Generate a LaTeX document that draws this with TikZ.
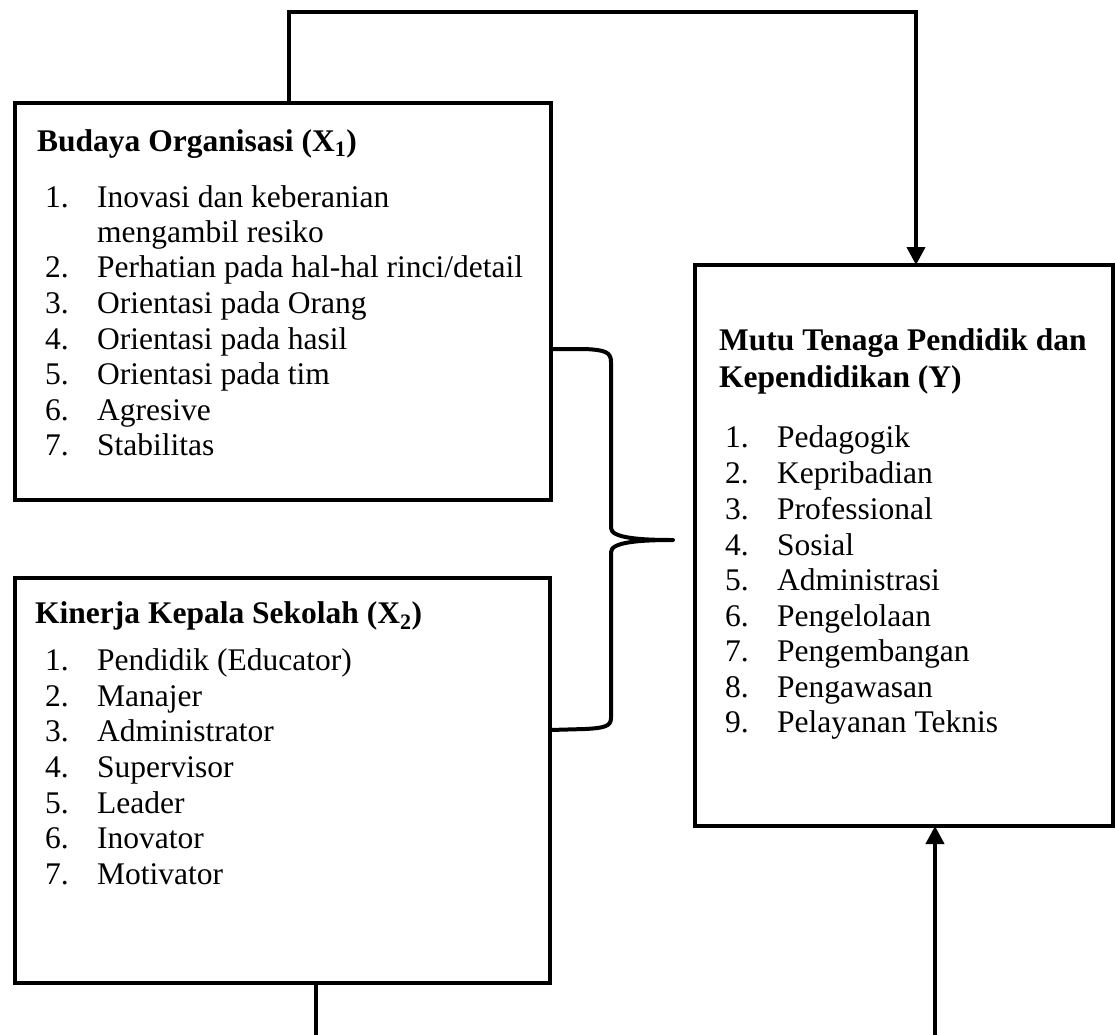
\documentclass[tikz,border=0pt]{standalone}
\usepackage{fontspec}
\setmainfont{Liberation Serif}
\usetikzlibrary{arrows.meta}
\tikzset{
  box/.style={draw, line width=4pt, inner sep=0pt, outer sep=0pt, anchor=north west},
  conn/.style={line width=4pt},
  arr/.style={line width=4pt, -{Triangle[length=18pt,width=18pt]}},
  txt/.style={anchor=base west, inner sep=0pt, font=\fontsize{31.5}{36}\selectfont},
  ttl/.style={txt, font=\fontsize{31.5}{36}\selectfont\bfseries}
}
\begin{document}
\begin{tikzpicture}[x=1pt,y=-1pt]
\useasboundingbox (0,0) rectangle (1116,1034);
% boxes
\node[box, minimum width=536pt, minimum height=397pt] (b1) at (15,103) {};
\node[box, minimum width=535pt, minimum height=405pt] (b2) at (15,578) {};
\node[box, minimum width=418pt, minimum height=561pt] (y) at (695,265) {};
% box 1 text
\node[ttl] (t1) at (37,151) {Budaya Organisasi (X\textsubscript{1})};
\foreach \n/\t/\yy [count=\i] in {1./Inovasi dan keberanian/207, {}/mengambil resiko/242, 2./{Perhatian pada hal-hal rinci/detail}/277, 3./Orientasi pada Orang/313, 4./Orientasi pada hasil/349, 5./Orientasi pada tim/384, 6./Agresive/420, 7./Stabilitas/455}{
  \node[txt] (a\i n) at (45,\yy) {\n};
  \node[txt] (a\i) at (97,\yy) {\t};
}
% box 2 text
\node[ttl] (t2) at (35,623) {Kinerja Kepala Sekolah (X\textsubscript{2})};
\foreach \n/\t/\yy [count=\i] in {1./Pendidik (Educator)/670, 2./Manajer/706, 3./Administrator/741, 4./Supervisor/777, 5./Leader/813, 6./Inovator/848, 7./Motivator/884}{
  \node[txt] (c\i n) at (45,\yy) {\n};
  \node[txt] (c\i) at (97,\yy) {\t};
}
% box Y text
\node[ttl] (t3) at (719,350) {Mutu Tenaga Pendidik dan};
\node[ttl] (t4) at (719,387) {Kependidikan (Y)};
\foreach \n/\t/\yy [count=\i] in {1./Pedagogik/447, 2./Kepribadian/483, 3./Professional/519, 4./Sosial/555, 5./Administrasi/590, 6./Pengelolaan/626, 7./Pengembangan/661, 8./Pengawasan/697, 9./Pelayanan Teknis/732}{
  \node[txt] (d\i n) at (725,\yy) {\n};
  \node[txt] (d\i) at (777,\yy) {\t};
}
% connectors
\coordinate (p1) at (289,12);
\coordinate (p2) at (916,12);
\draw[arr] (b1.north -| p1) -- (p1) -- (p2) -- (y.north -| p2);
\coordinate (q1) at (316,1036);
\draw[conn] (b2.south -| q1) -- (q1);
\coordinate (q2) at (935,1036);
\draw[arr] (q2) -- (y.south -| q2);
% brace
\coordinate (bt) at (0,349);
\coordinate (bb) at (0,730);
\coordinate (tip) at (673,540);
\draw[conn, line join=round] (b1.east |- bt) -- (585,349) .. controls (605,350) and (611,352) .. (611,362)
  -- (611,528) .. controls (611,538) and (640,540) .. (tip)
  .. controls (640,540) and (611,542) .. (611,552)
  -- (611,718) .. controls (611,726) and (605,728) .. (585,729) -- (b2.east |- bb);
\end{tikzpicture}
\end{document}
